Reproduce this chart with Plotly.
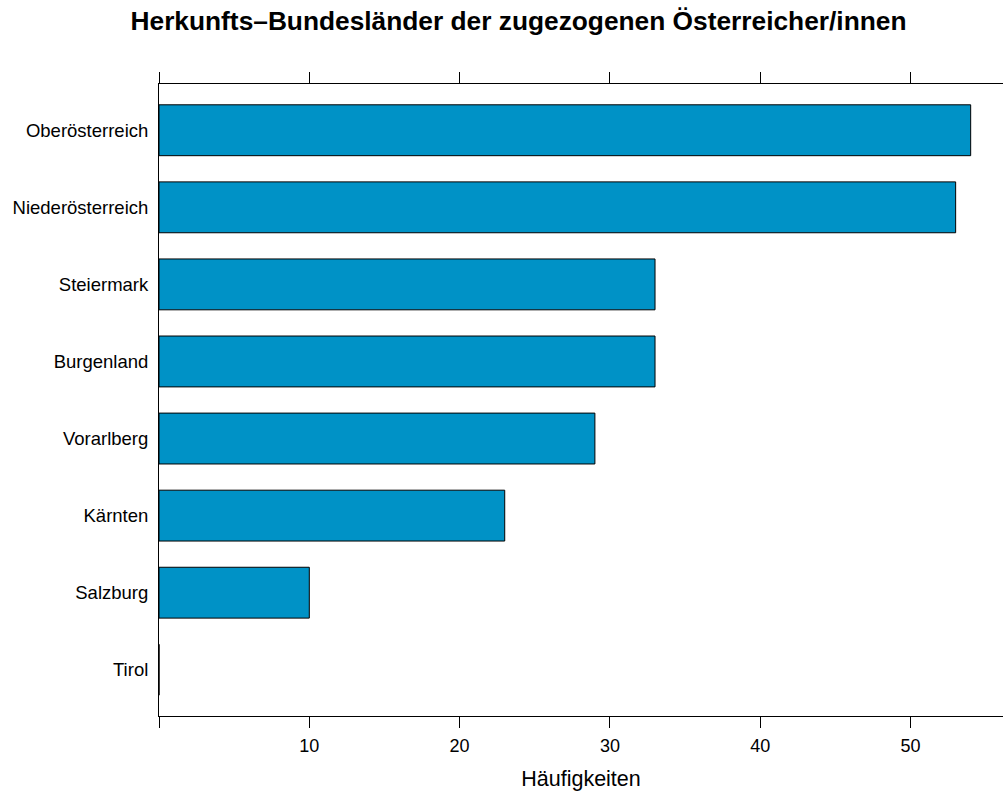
import plotly.graph_objects as go

categories = ["Oberösterreich", "Niederösterreich", "Steiermark", "Burgenland",
              "Vorarlberg", "Kärnten", "Salzburg", "Tirol"]
values = [54, 53, 33, 33, 29, 23, 10, 0]
x_ticks = [0, 10, 20, 30, 40, 50]
x_tick_labels = ["", "10", "20", "30", "40", "50"]

positions = list(range(1, len(categories) + 1))

fig = go.Figure()
fig.add_trace(go.Bar(
    x=values, y=positions, orientation="h", width=0.66,
    marker=dict(color="#0092C6", line=dict(color="black", width=1)),
    hoverinfo="x+y",
))

font_family = "Liberation Sans, Arial, sans-serif"
fig.update_layout(
    width=1003, height=796,
    margin=dict(l=159, r=0, t=84, b=80, autoexpand=False),
    paper_bgcolor="white", plot_bgcolor="white",
    showlegend=False,
    font=dict(family=font_family, color="black", size=18.5),
    title=dict(text="<b>Herkunfts\u2013Bundesländer der zugezogenen Österreicher/innen</b>",
               x=518.5/1003, xanchor="center", xref="container",
               y=1 - 21/796, yanchor="middle", yref="container",
               font=dict(size=26.3, family=font_family, color="black")),
)
fig.update_xaxes(
    range=[0, 56.15], tickvals=x_ticks, ticktext=x_tick_labels,
    ticks="outside", ticklen=11, tickwidth=1, tickcolor="black",
    showline=True, linecolor="black", linewidth=1, mirror="ticks",
    showgrid=False, zeroline=False, automargin=False,
    title=dict(text="Häufigkeiten", font=dict(size=21.5), standoff=16),
    tickfont=dict(size=18), ticklabelstandoff=2,
)
fig.update_yaxes(
    range=[8.6, 0.4], tickvals=positions, ticktext=categories,
    ticks="", showline=True, linecolor="black", linewidth=1, mirror=False,
    showgrid=False, zeroline=False, automargin=False,
    tickfont=dict(size=18.5), ticklabelstandoff=6,
)

fig.write_html("out.html", config={"displayModeBar": False},
               post_script="document.body.style.margin='0px';")
